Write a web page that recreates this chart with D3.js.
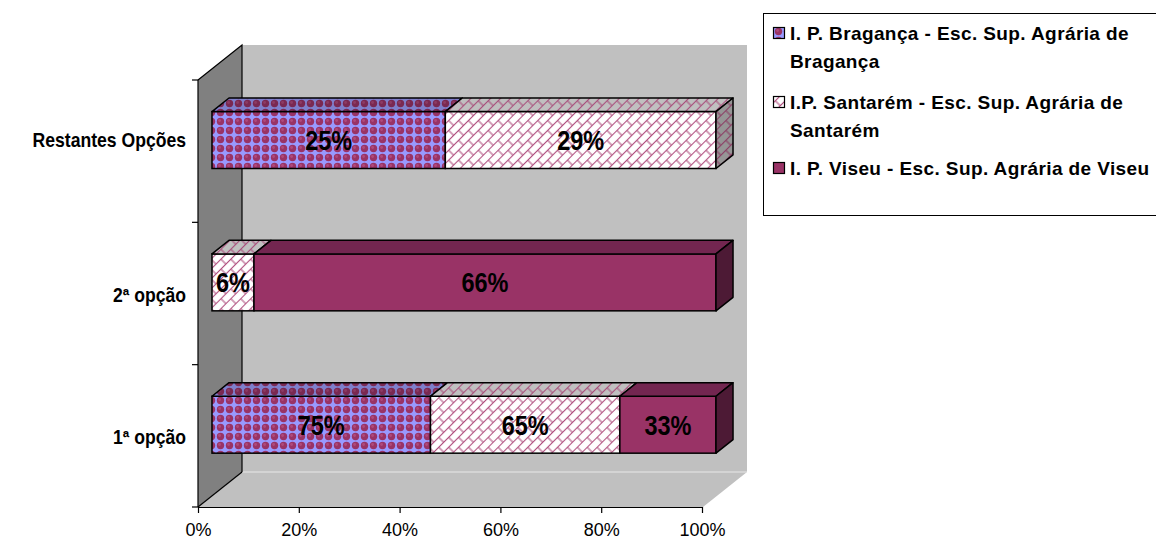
<!DOCTYPE html>
<html>
<head>
<meta charset="utf-8">
<script src="https://cdn.jsdelivr.net/npm/d3@7/dist/d3.min.js"></script>
<style>
  html, body { margin: 0; padding: 0; background: #fff; }
  svg { display: block; }
</style>
</head>
<body>
<svg id="chart" width="1156" height="545"></svg>
<script>
// ---- data ----
const categories = ["Restantes Opções", "2ª opção", "1ª opção"];
const seriesKeys = ["braganca", "santarem", "viseu"];
const braganca = [25, 0, 75];
const santarem = [29, 6, 65];
const viseu = [0, 66, 33];
const legendLines = [
  ["I. P. Bragança - Esc. Sup. Agrária de", "Bragança"],
  ["I.P. Santarém - Esc. Sup. Agrária de", "Santarém"],
  ["I. P. Viseu - Esc. Sup. Agrária de Viseu"]
];
const xTickValues = [0, 0.2, 0.4, 0.6, 0.8, 1];

// ---- layout ----
const svg = d3.select("#chart");
const FONT = "'Liberation Sans', Arial, sans-serif";
const plot = { left: 198, right: 702, top: 80, bottom: 507 };
const DEPTH = { dx: 44, dy: -35 };           // full floor depth
const barFront = 0.318, barBack = 0.705;     // bar position inside the depth

const x = d3.scaleLinear().domain([0, 1]).range([plot.left, plot.right]);
const y = d3.scaleBand().domain(categories).range([plot.top, plot.bottom])
  .paddingInner(0.6).paddingOuter(0.3);
const step = y.step();

const rows = categories.map((c, i) => ({
  cat: c, braganca: braganca[i], santarem: santarem[i], viseu: viseu[i]
}));
const stacked = d3.stack().keys(seriesKeys).offset(d3.stackOffsetExpand)(rows);

// ---- patterns ----
const defs = svg.append("defs");

function spherePattern(id, bg, ball, shine) {
  const p = defs.append("pattern").attr("id", id).attr("patternUnits", "userSpaceOnUse")
    .attr("width", 9).attr("height", 9);
  p.append("rect").attr("width", 9).attr("height", 9).attr("fill", bg);
  p.append("circle").attr("cx", 4.5).attr("cy", 4.5).attr("r", 3.7).attr("fill", ball);
  p.append("circle").attr("cx", 3.6).attr("cy", 3.5).attr("r", 1.4).attr("fill", shine);
}
spherePattern("braFront", "#9999ff", "#993366", "#b04a7c");
spherePattern("braTop", "#7f7fcc", "#7a2952", "#8c3b64");

function brickPattern(id, bg, line) {
  const p = defs.append("pattern").attr("id", id).attr("patternUnits", "userSpaceOnUse")
    .attr("width", 14).attr("height", 14).attr("patternTransform", "rotate(-45)");
  p.append("rect").attr("width", 14).attr("height", 14).attr("fill", bg);
  const g = p.append("g").attr("stroke", line).attr("stroke-width", 1.1).attr("fill", "none");
  g.append("line").attr("x1", 0).attr("x2", 14).attr("y1", 3.5).attr("y2", 3.5);
  g.append("line").attr("x1", 0).attr("x2", 14).attr("y1", 10.5).attr("y2", 10.5);
  g.append("line").attr("x1", 1).attr("x2", 1).attr("y1", 3.5).attr("y2", 10.5);
  g.append("line").attr("x1", 8).attr("x2", 8).attr("y1", 10.5).attr("y2", 14);
  g.append("line").attr("x1", 8).attr("x2", 8).attr("y1", 0).attr("y2", 3.5);
}
brickPattern("sanFront", "#ffffff", "#b0507f");
brickPattern("sanTop", "#c0c0c0", "#a8507c");
brickPattern("sanSide", "#969696", "#8c3d64");

const fills = {
  braganca: { front: "url(#braFront)", top: "url(#braTop)", side: "url(#braTop)" },
  santarem: { front: "url(#sanFront)", top: "url(#sanTop)", side: "url(#sanSide)" },
  viseu:    { front: "#993366", top: "#732650", side: "#4d1a35" }
};

// ---- walls and floor ----
const bx = plot.left + DEPTH.dx, by = plot.top + DEPTH.dy;
const floorBackY = plot.bottom + DEPTH.dy;
const backRight = plot.right + DEPTH.dx + 1;

svg.append("rect").attr("x", bx).attr("y", by)
  .attr("width", backRight - bx).attr("height", floorBackY - by).attr("fill", "#c0c0c0");
svg.append("polygon")
  .attr("points", [[plot.left, plot.top], [bx, by], [bx, floorBackY], [plot.left, plot.bottom]].join(" "))
  .attr("fill", "#808080");
svg.append("polygon")
  .attr("points", [[plot.left, plot.bottom], [bx, floorBackY], [backRight, floorBackY], [plot.right + 1, plot.bottom]].join(" "))
  .attr("fill", "#c0c0c0");
svg.append("line").attr("x1", bx).attr("x2", backRight).attr("y1", floorBackY).attr("y2", floorBackY)
  .attr("stroke", "#e8e8e8").attr("stroke-width", 1);
const edges = svg.append("g").attr("stroke", "#000").attr("stroke-width", 1.2).attr("fill", "none");
edges.append("path").attr("d", `M${plot.left},${plot.top}L${bx},${by}L${bx},${floorBackY}`);
edges.append("path").attr("d", `M${plot.left},${plot.bottom}L${bx},${floorBackY}`);

// ---- axes ----
const xAxis = d3.axisBottom(x).tickValues(xTickValues).tickFormat(d3.format(".0%"))
  .tickSize(6).tickSizeOuter(0).tickPadding(10);
const gx = svg.append("g").attr("transform", `translate(0,${plot.bottom})`).call(xAxis);
gx.select(".domain").attr("stroke", "#000").attr("stroke-width", 1.2);
gx.selectAll(".tick line").attr("stroke", "#000").attr("stroke-width", 1.2);
gx.selectAll(".tick text").attr("font-family", FONT).attr("font-size", 18).attr("fill", "#000");

// category axis line and tick marks at band boundaries
const gy = svg.append("g");
gy.append("line").attr("x1", plot.left).attr("x2", plot.left)
  .attr("y1", plot.top).attr("y2", plot.bottom).attr("stroke", "#000").attr("stroke-width", 1.2);
gy.selectAll("line.tk").data(d3.range(categories.length + 1)).join("line").attr("class", "tk")
  .attr("x1", plot.left - 6).attr("x2", plot.left)
  .attr("y1", k => plot.top + k * step).attr("y2", k => plot.top + k * step)
  .attr("stroke", "#000").attr("stroke-width", 1.2);

// ---- bars ----
const fdx = DEPTH.dx * barFront, fdy = DEPTH.dy * barFront;
const ddx = DEPTH.dx * (barBack - barFront), ddy = DEPTH.dy * (barBack - barFront);
const barsG = svg.append("g");
const labelsG = svg.append("g");

categories.forEach((cat, ci) => {
  const y0 = y(cat) + fdy, h = y.bandwidth();
  const segs = stacked.map(s => ({ key: s.key, lo: s[ci][0], hi: s[ci][1], value: s[ci].data[s.key] }))
    .filter(s => s.value > 0);
  segs.forEach((s, si) => {
    const xa = x(s.lo) + fdx, xb = x(s.hi) + fdx;
    const f = fills[s.key];
    barsG.append("rect").attr("x", xa).attr("y", y0).attr("width", xb - xa).attr("height", h)
      .attr("fill", f.front).attr("stroke", "#000").attr("stroke-width", 1.5);
    barsG.append("polygon")
      .attr("points", [[xa, y0], [xb, y0], [xb + ddx, y0 + ddy], [xa + ddx, y0 + ddy]].join(" "))
      .attr("fill", f.top).attr("stroke", "#000").attr("stroke-width", 1.5).attr("stroke-linejoin", "round");
    if (si === segs.length - 1) {
      barsG.append("polygon")
        .attr("points", [[xb, y0], [xb + ddx, y0 + ddy], [xb + ddx, y0 + h + ddy], [xb, y0 + h]].join(" "))
        .attr("fill", f.side).attr("stroke", "#000").attr("stroke-width", 1.5).attr("stroke-linejoin", "round");
    }
    const cx = (xa + xb) / 2, cy = y0 + h / 2;
    labelsG.append("text")
      .attr("transform", `translate(${cx},${cy}) scale(0.84,1)`)
      .attr("text-anchor", "middle").attr("dy", "0.36em")
      .attr("font-family", FONT).attr("font-weight", "bold").attr("font-size", 28)
      .attr("fill", "#000").text(s.value + "%");
  });

  // category label
  const frontCenter = y(cat) + y.bandwidth() / 2;
  const ly = ci === 0 ? frontCenter + fdy : frontCenter + 1;
  svg.append("text")
    .attr("transform", `translate(186,${ly}) scale(0.88,1)`)
    .attr("text-anchor", "end").attr("dy", "0.36em")
    .attr("font-family", FONT).attr("font-weight", "bold").attr("font-size", 20)
    .attr("fill", "#000").text(cat);
});

// ---- legend ----
const lg = svg.append("g");
lg.append("rect").attr("x", 763.5).attr("y", 13.5).attr("width", 420).attr("height", 202)
  .attr("fill", "#fff").attr("stroke", "#000").attr("stroke-width", 1);
const itemTops = [33, 102, 168];
const swatchFill = [fills.braganca.front, fills.santarem.front, fills.viseu.front];
seriesKeys.forEach((k, i) => {
  const cy = itemTops[i];
  lg.append("rect").attr("x", 773.5).attr("y", cy - 5.5).attr("width", 11).attr("height", 11)
    .attr("fill", swatchFill[i]).attr("stroke", "#000").attr("stroke-width", 1.2);
  legendLines[i].forEach((line, li) => {
    lg.append("text").attr("x", 790).attr("y", cy + li * 28).attr("dy", "0.36em")
      .attr("font-family", FONT).attr("font-weight", "bold").attr("font-size", 19)
      .attr("letter-spacing", 0.4).attr("fill", "#000").text(line);
  });
});
</script>
</body>
</html>
